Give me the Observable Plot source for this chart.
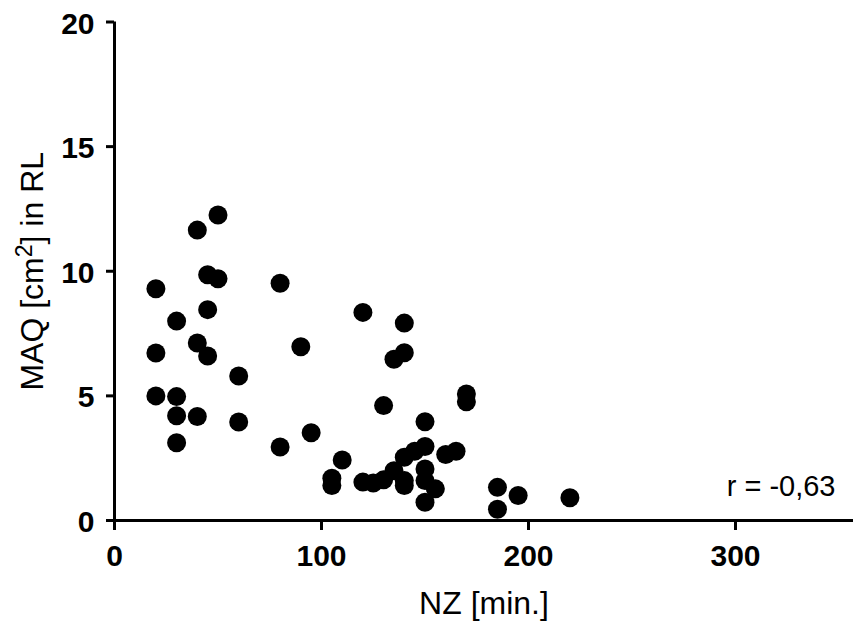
<!DOCTYPE html>
<html>
<head>
<meta charset="utf-8">
<script src="https://cdn.jsdelivr.net/npm/d3@7"></script>
<script src="https://cdn.jsdelivr.net/npm/@observablehq/plot@0.6"></script>
<style>
  html, body { margin: 0; padding: 0; background: #fff; }
  svg { display: block; }
</style>
</head>
<body>
<div id="chart"></div>
<script>
const nz = [20, 20, 20, 30, 30, 30, 30, 40, 40, 40, 45, 45, 45, 50, 50, 60, 60, 80, 80, 90, 95,
  105, 105, 110, 120, 120, 125, 130, 130, 135, 135, 140, 140, 140, 140, 140, 145,
  150, 150, 150, 150, 150, 155, 160, 165, 170, 170, 185, 185, 195, 220];
const maq = [9.3, 6.72, 5.0, 8.0, 4.97, 4.2, 3.12, 11.65, 7.12, 4.17, 9.86, 8.46, 6.6, 12.26, 9.7,
  5.8, 3.95, 9.52, 2.95, 6.97, 3.52, 1.7, 1.4, 2.43, 8.35, 1.54, 1.5, 4.61, 1.63, 6.47, 2.0,
  7.92, 6.73, 2.54, 1.6, 1.4, 2.78, 3.96, 2.97, 2.07, 1.6, 0.73, 1.27, 2.65, 2.78, 5.08, 4.76,
  1.33, 0.45, 1.0, 0.91];
const xTicks = [0, 100, 200, 300];
const yTicks = [0, 5, 10, 15, 20];
const xLabel = "NZ [min.]";
const yLabel = "MAQ [cm2] in RL";
const annotation = ["r = -0,63"];

const data = nz.map((x, i) => ({x, y: maq[i]}));
const font = "'Liberation Sans', Arial, Helvetica, sans-serif";

// tick lengths in pixels converted through the scales below
const pxPerX = (853 - 114) / 357;
const pxPerY = (626 - 106 - 21.5) / 20;

const chart = Plot.plot({
  width: 853,
  height: 626,
  marginLeft: 114,
  marginRight: 0,
  marginTop: 21.5,
  marginBottom: 106,
  style: {fontFamily: font, background: "#fff", color: "#000"},
  x: {domain: [0, 357]},
  y: {domain: [0, 20]},
  marks: [
    Plot.axisX({ticks: xTicks, tickSize: 0, tickPadding: 24, fontSize: 30, fontWeight: "bold", label: null}),
    Plot.axisY({ticks: yTicks, tickSize: 0, tickPadding: 20, fontSize: 30, fontWeight: "bold", label: null, dy: 2}),
    Plot.ruleX(xTicks, {y1: 0, y2: -10 / pxPerY, strokeWidth: 3}),
    Plot.ruleY(yTicks, {x1: -8 / pxPerX, x2: 0, strokeWidth: 3}),
    Plot.ruleY([0], {x1: 0, x2: 357, strokeWidth: 3}),
    Plot.ruleX([0], {y1: 0, y2: 20, strokeWidth: 3}),
    Plot.dot(data, {x: "x", y: "y", r: 9.5, fill: "#000", stroke: "none"}),
    Plot.text([xLabel], {frameAnchor: "bottom", text: d => d, dy: 83, fontSize: 32, textAnchor: "middle", lineAnchor: "middle"}),
    Plot.text([yLabel], {frameAnchor: "left", text: d => d, dx: -82, rotate: -90, fontSize: 32, textAnchor: "middle", lineAnchor: "middle", className: "ylab"}),
    Plot.text(annotation, {frameAnchor: "bottom-right", text: d => d, textAnchor: "end", dx: -18, dy: -34, fontSize: 29, lineAnchor: "middle"})
  ]
});
document.getElementById("chart").appendChild(chart);

// superscript the "2" in cm2
const yl = chart.querySelector(".ylab text");
if (yl) {
  const ns = "http://www.w3.org/2000/svg";
  yl.textContent = "";
  const t1 = document.createElementNS(ns, "tspan"); t1.textContent = "MAQ [cm";
  const t2 = document.createElementNS(ns, "tspan"); t2.textContent = "2";
  t2.setAttribute("font-size", "23"); t2.setAttribute("baseline-shift", "50%");
  const t3 = document.createElementNS(ns, "tspan"); t3.textContent = "] in RL";
  yl.append(t1, t2, t3);
}
</script>
</body>
</html>
